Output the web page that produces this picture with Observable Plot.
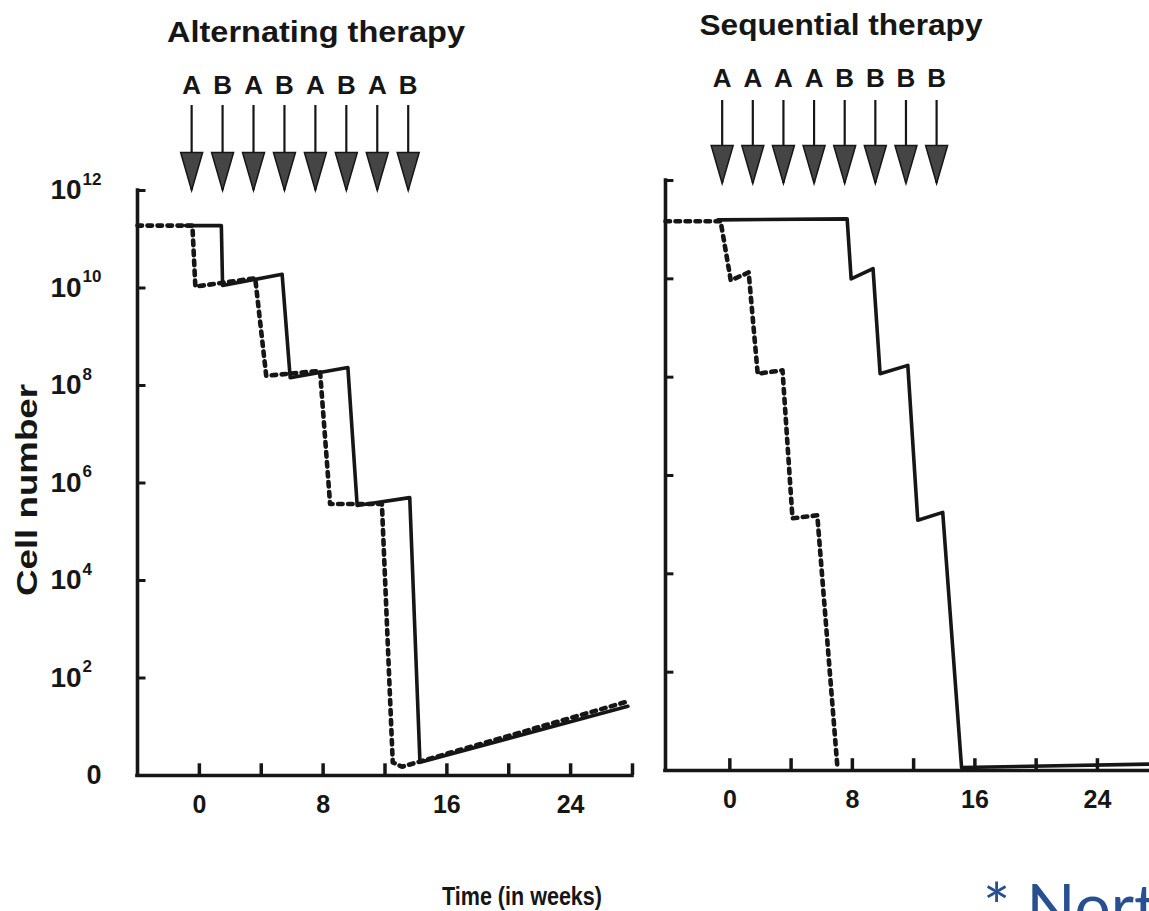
<!DOCTYPE html>
<html>
<head>
<meta charset="utf-8">
<script src="https://cdn.jsdelivr.net/npm/d3@7"></script>
<script src="https://cdn.jsdelivr.net/npm/@observablehq/plot@0.6"></script>
<style>
html, body { margin: 0; padding: 0; background: #fff; width: 1149px; height: 911px; overflow: hidden; }
#wrap { position: relative; width: 1149px; height: 911px; overflow: hidden; }
#wrap > svg { position: absolute; }
</style>
</head>
<body>
<div id="wrap"></div>
<script>
// ---------- data ----------
const weekTicks = [0, 4, 8, 12, 16, 20, 24, 28];
const weekLabels = [0, 8, 16, 24];
const yTickExps = [2, 4, 6, 8, 10, 12];          // ticks at 10^2 ... 10^12
const yLabelExps = [2, 4, 6, 8, 10, 12];
const doseWeeks = [-0.5, 1.5, 3.5, 5.5, 7.5, 9.5, 11.5, 13.5];
const altDrugs = ["A", "B", "A", "B", "A", "B", "A", "B"];
const seqDrugs = ["A", "A", "A", "A", "B", "B", "B", "B"];

// Alternating therapy (log10 of cell number)
const altSolidWeeks = [-0.9, 1.42, 1.5, 5.35, 5.87, 9.6, 10.2, 13.6, 14.26, 27.7];
const altSolidLog   = [11.28, 11.28, 10.05, 10.28, 8.16, 8.37, 5.54, 5.70, 0.27, 1.42];
const altDotWeeks   = [-4, -0.45, -0.26, 3.61, 4.32, 7.8, 8.45, 11.8, 12.5, 13.1, 27.7];
const altDotLog     = [11.28, 11.28, 10.03, 10.2, 8.2, 8.3, 5.57, 5.57, 0.27, 0.18, 1.52];

// Sequential therapy (log10 of cell number)
const seqSolidWeeks = [-0.78, 7.66, 7.92, 9.35, 9.81, 11.62, 12.27, 13.9, 15.13, 27.4];
const seqSolidLog   = [11.2, 11.22, 10.0, 10.21, 8.07, 8.24, 5.09, 5.25, 0.06, 0.13];
const seqDotWeeks   = [-4.2, -0.6, 0.06, 1.23, 1.82, 3.44, 4.09, 5.71, 7.01];
const seqDotLog     = [11.17, 11.17, 9.97, 10.13, 8.07, 8.14, 5.13, 5.19, 0.12];

// ---------- drawing ----------
const ink = "#161616";
const font = "'Liberation Sans', Arial, sans-serif";
const wrap = document.getElementById("wrap");
function place(el, left, top) { el.style.left = left + "px"; el.style.top = top + "px"; wrap.appendChild(el); }

const arrowHead = { draw(ctx) { ctx.moveTo(-11, -38); ctx.lineTo(11, -38); ctx.lineTo(0, 0); ctx.closePath(); } };

function header({width, mLeft, mRight, domain, top, tip, drugs, letterDy}) {
  return Plot.plot({
    width, height: tip + 6, marginLeft: mLeft, marginRight: mRight, marginTop: top, marginBottom: 6,
    x: {domain, axis: null},
    style: {background: "transparent", overflow: "visible", fontFamily: font},
    marks: [
      Plot.ruleX(doseWeeks, {stroke: ink, strokeWidth: 2.2}),
      Plot.dot(doseWeeks, {x: d => d, frameAnchor: "bottom", symbol: arrowHead, r: 10, fill: "#454545", stroke: ink, strokeWidth: 1.5}),
      Plot.text(doseWeeks, {x: d => d, text: (d, i) => drugs[i], frameAnchor: "top", lineAnchor: "bottom", dy: letterDy, fontSize: 26, fontWeight: "bold", fill: ink})
    ]
  });
}

function panel({width, height, mLeft, mRight, mTop, mBottom, xDomain, sW, sL, dW, dL, yLabels}) {
  const xMin = xDomain[0];
  const solid = sW.map((w, i) => ({w, n: 10 ** sL[i]}));
  const dotted = dW.map((w, i) => ({w, n: 10 ** dL[i]}));
  const marks = [
    Plot.ruleY([1], {stroke: ink, strokeWidth: 3.6, strokeLinecap: "square"}),
    Plot.ruleX([xMin], {y1: 1, y2: 1e12, stroke: ink, strokeWidth: 3.6, strokeLinecap: "square"}),
    Plot.ruleY(yTickExps, {y: e => 10 ** e, x1: xMin, x2: xMin + 0.55, stroke: ink, strokeWidth: 3}),
    Plot.ruleX(weekTicks.filter(t => t <= xDomain[1] + 0.01), {y1: 1, y2: 10 ** 0.24, stroke: ink, strokeWidth: 3.5}),
    Plot.text(weekLabels, {x: d => d, y: 1, dy: 29, text: d => String(d), fontSize: 25, fontWeight: "bold", fill: ink}),
    Plot.line(solid, {x: "w", y: "n", stroke: ink, strokeWidth: 3.6}),
    Plot.line(dotted, {x: "w", y: "n", stroke: ink, strokeWidth: 4.6, strokeDasharray: "4.5,5.5"})
  ];
  if (yLabels) {
    marks.push(
      Plot.text(yLabelExps, {x: xMin, y: e => 10 ** e, text: () => "10", textAnchor: "start", dx: -87, fontSize: 28, fontWeight: "bold", fill: ink}),
      Plot.text(yLabelExps, {x: xMin, y: e => 10 ** e, text: e => String(e), textAnchor: "start", dx: -55, dy: -11, fontSize: 17, fontWeight: "bold", fill: ink}),
      Plot.text(["0"], {x: xMin, y: 1, text: d => d, textAnchor: "end", dx: -36, fontSize: 27, fontWeight: "bold", fill: ink})
    );
  }
  return Plot.plot({
    width, height, marginLeft: mLeft, marginRight: mRight, marginTop: mTop, marginBottom: mBottom,
    x: {domain: xDomain, axis: null},
    y: {type: "log", domain: [1, 1e12], axis: null},
    style: {background: "transparent", overflow: "visible", fontFamily: font},
    marks
  });
}

// left: Alternating therapy
place(panel({width: 650, height: 800, mLeft: 137, mRight: 18, mTop: 190, mBottom: 25, xDomain: [-4, 28],
  sW: altSolidWeeks, sL: altSolidLog, dW: altDotWeeks, dL: altDotLog, yLabels: true}), 0, 0);
place(header({width: 650, mLeft: 137, mRight: 18, domain: [-4, 28], top: 105, tip: 190, drugs: altDrugs, letterDy: -12}), 0, 0);

// right: Sequential therapy
place(panel({width: 499, height: 800, mLeft: 15, mRight: 0, mTop: 180, mBottom: 30, xDomain: [-4.2, 27.4],
  sW: seqSolidWeeks, sL: seqSolidLog, dW: seqDotWeeks, dL: seqDotLog, yLabels: false}), 650, 0);
place(header({width: 499, mLeft: 15, mRight: 0, domain: [-4.2, 27.4], top: 100, tip: 183, drugs: seqDrugs, letterDy: -14}), 650, 0);

// titles and axis labels
const svg = d3.create("svg").attr("width", 1149).attr("height", 911)
  .style("left", "0px").style("top", "0px").style("font-family", font).style("pointer-events", "none");
svg.append("text").attr("x", 316).attr("y", 42).attr("text-anchor", "middle")
  .attr("font-size", 29).attr("font-weight", "bold").attr("fill", ink)
  .attr("textLength", 298).attr("lengthAdjust", "spacingAndGlyphs").text("Alternating therapy");
svg.append("text").attr("x", 841).attr("y", 35).attr("text-anchor", "middle")
  .attr("font-size", 29).attr("font-weight", "bold").attr("fill", ink)
  .attr("textLength", 283).attr("lengthAdjust", "spacingAndGlyphs").text("Sequential therapy");
svg.append("text").attr("transform", "translate(37,490) rotate(-90)").attr("text-anchor", "middle")
  .attr("font-size", 30).attr("font-weight", "bold").attr("fill", ink)
  .attr("textLength", 212).attr("lengthAdjust", "spacingAndGlyphs").text("Cell number");
svg.append("text").attr("x", 522).attr("y", 905).attr("text-anchor", "middle")
  .attr("font-size", 26).attr("font-weight", "bold").attr("fill", ink)
  .attr("textLength", 160).attr("lengthAdjust", "spacingAndGlyphs").text("Time (in weeks)");
svg.append("text").attr("x", 983).attr("y", 930)
  .attr("font-size", 64).attr("font-family", "Lato, 'Open Sans', sans-serif").attr("fill", "#284f8f")
  .text("* Norton-Simon");
place(svg.node(), 0, 0);
</script>
</body>
</html>
